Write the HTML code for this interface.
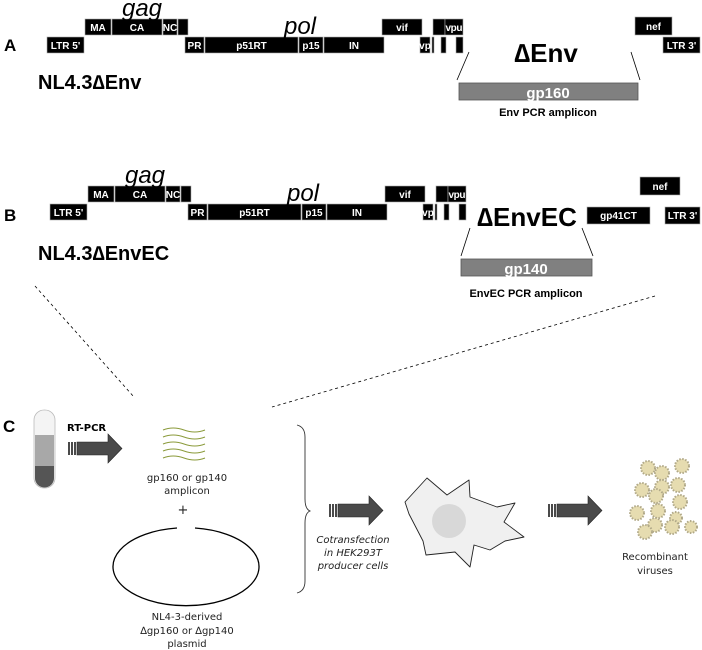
<!DOCTYPE html>
<html><head><meta charset="utf-8"><style>
html,body{margin:0;padding:0;background:#fff;}
svg{display:block;font-family:"Liberation Sans",sans-serif;}
.b{fill:#000;stroke:#aaa;stroke-width:0.6}
.t{fill:#fff;font-weight:bold;font-size:10px;text-anchor:middle}
.c{font-family:"DejaVu Sans","Liberation Sans",sans-serif;}
</style></head><body>
<svg width="702" height="650" viewBox="0 0 702 650" xmlns="http://www.w3.org/2000/svg">
<defs>
<g id="row">
 <rect class="b" x="47" y="37" width="37" height="16"/><text class="t" x="65.5" y="49">LTR 5'</text>
 <rect class="b" x="85" y="19" width="26" height="16"/><text class="t" x="98" y="31">MA</text>
 <rect class="b" x="112" y="19" width="50" height="16"/><text class="t" x="137" y="31">CA</text>
 <rect class="b" x="163" y="19" width="14" height="16"/><text class="t" x="170" y="31">NC</text>
 <rect class="b" x="178" y="19" width="10" height="16"/>
 <rect class="b" x="185" y="37" width="19" height="16"/><text class="t" x="194.5" y="49">PR</text>
 <rect class="b" x="205" y="37" width="93" height="16"/><text class="t" x="251.5" y="49">p51RT</text>
 <rect class="b" x="299" y="37" width="24" height="16"/><text class="t" x="311" y="49">p15</text>
 <rect class="b" x="324" y="37" width="60" height="16"/><text class="t" x="354" y="49">IN</text>
 <rect class="b" x="382" y="19" width="40" height="16"/><text class="t" x="402" y="31">vif</text>
 <rect class="b" x="420" y="37" width="10" height="16"/><text class="t" x="425" y="49">vp</text>
 <rect class="b" x="432" y="37" width="2" height="16"/>
 <rect class="b" x="433" y="19" width="12" height="16"/>
 <rect class="b" x="445" y="19" width="18" height="16"/><text class="t" x="454" y="31" textLength="17">vpu</text>
 <rect class="b" x="441" y="37" width="5" height="16"/>
 <rect class="b" x="456" y="37" width="7" height="16"/>
 <text x="142" y="16" font-size="24" font-style="italic" text-anchor="middle">gag</text>
 <text x="300" y="34" font-size="24" font-style="italic" text-anchor="middle">pol</text>
</g>
</defs>
<!-- A -->
<text x="4" y="51" font-size="17" font-weight="bold">A</text>
<use href="#row"/>
<rect class="b" x="635" y="17" width="37" height="18"/><text class="t" x="653.5" y="30">nef</text>
<rect class="b" x="663" y="37" width="37" height="16"/><text class="t" x="681.5" y="49">LTR 3'</text>
<text x="38" y="89" font-size="20" font-weight="bold">NL4.3∆Env</text>
<text x="546" y="62" font-size="26" font-weight="bold" text-anchor="middle">∆Env</text>
<line x1="469" y1="52" x2="457" y2="80" stroke="#000" stroke-width="0.8"/>
<line x1="631" y1="52" x2="640" y2="80" stroke="#000" stroke-width="0.8"/>
<rect x="459" y="83" width="179" height="17" fill="#808080" stroke="#555" stroke-width="0.8"/>
<text x="548" y="98" font-size="15" font-weight="bold" fill="#fff" text-anchor="middle">gp160</text>
<text x="548" y="116" font-size="11" font-weight="bold" text-anchor="middle">Env PCR amplicon</text>
<!-- B -->
<text x="4" y="221" font-size="17" font-weight="bold">B</text>
<g transform="translate(3,167)"><use href="#row"/></g>
<rect class="b" x="640" y="177" width="40" height="18"/><text class="t" x="660" y="190">nef</text>
<rect class="b" x="587" y="207" width="63" height="17"/><text class="t" x="618.5" y="219">gp41CT</text>
<rect class="b" x="665" y="207" width="35" height="17"/><text class="t" x="682.5" y="219">LTR 3'</text>
<text x="38" y="260" font-size="20" font-weight="bold">NL4.3∆EnvEC</text>
<text x="527" y="226" font-size="26" font-weight="bold" text-anchor="middle">∆EnvEC</text>
<line x1="470" y1="228" x2="461" y2="256" stroke="#000" stroke-width="0.8"/>
<line x1="582" y1="228" x2="593" y2="256" stroke="#000" stroke-width="0.8"/>
<rect x="461" y="259" width="131" height="17" fill="#808080" stroke="#555" stroke-width="0.8"/>
<text x="526" y="274" font-size="15" font-weight="bold" fill="#fff" text-anchor="middle">gp140</text>
<text x="526" y="297" font-size="11" font-weight="bold" text-anchor="middle">EnvEC PCR amplicon</text>
<!-- dashed -->
<line x1="35" y1="286" x2="134" y2="397" stroke="#000" stroke-width="0.8" stroke-dasharray="3,3"/>
<line x1="655" y1="296" x2="272" y2="407" stroke="#000" stroke-width="0.8" stroke-dasharray="3,3"/>
<!-- C -->
<text x="3" y="432" font-size="17" font-weight="bold">C</text>
<rect x="34" y="410" width="21" height="78" rx="10" fill="#f4f4f4" stroke="#bbb" stroke-width="0.8"/>
<path d="M35 435 H54 V478 A9.5 9.5 0 0 1 35 478 Z" fill="#a8a8a8"/>
<path d="M35 466 H54 V478 A9.5 9.5 0 0 1 35 478 Z" fill="#555"/>
<text x="67" y="431" font-size="10" font-weight="bold" class="c">RT-PCR</text>
<g id="arr" fill="#4a4a4a">
<rect x="68" y="442" width="2" height="13"/><rect x="71" y="442" width="2" height="13"/><rect x="74" y="442" width="2" height="13"/>
<path d="M77 442 H108 V434 L122 448.5 L108 463 V455 H77 Z" stroke="#222" stroke-width="0.6"/>
</g>
<g fill="none" stroke="#8a9a3a" stroke-width="1">
<path d="M163 430 q10 -4 21 0 t21 0"/><path d="M163 437 q10 -4 21 0 t21 0"/><path d="M163 444 q10 -4 21 0 t21 0"/><path d="M163 451 q10 -4 21 0 t21 0"/><path d="M163 458 q10 -4 21 0 t21 0"/>
</g>
<g class="c" font-size="10" text-anchor="middle" fill="#222">
<text x="187" y="481">gp160 or gp140</text><text x="187" y="494">amplicon</text>
<text x="183" y="514" font-size="13">+</text>
<text x="187" y="620">NL4-3-derived</text><text x="187" y="634">∆gp160 or ∆gp140</text><text x="187" y="647">plasmid</text>
</g>
<path d="M195 528 A73 39 0 1 1 177 528" fill="none" stroke="#000" stroke-width="1.3"/>
<path d="M297 425 q8 2 8 12 v62 q0 10 5 12 q-5 2 -5 12 v58 q0 10 -8 12" fill="none" stroke="#333" stroke-width="0.9"/>
<g transform="translate(261,62)"><use href="#arr"/></g>
<g class="c" font-size="10" font-style="italic" text-anchor="middle" fill="#222">
<text x="353" y="543">Cotransfection</text><text x="353" y="556">in HEK293T</text><text x="353" y="569">producer cells</text>
</g>
<path d="M427 478 L447 495 L469 480 L470 497 L497 507 L515 503 L504 522 L524 537 L505 541 L490 550 L474 545 L470 567 L455 552 L426 555 L423 541 L409 514 L405 502 Z" fill="#f0f0f0" stroke="#222" stroke-width="0.9" stroke-linejoin="round"/>
<circle cx="449" cy="521" r="17" fill="#d8d8d8"/>
<g transform="translate(480,62)"><use href="#arr"/></g>
<g fill="#e6dcb0" stroke="#b0a888" stroke-width="2" stroke-dasharray="1.5,1.5">
<circle cx="648" cy="468" r="7"/><circle cx="662" cy="473" r="7"/><circle cx="682" cy="466" r="7"/>
<circle cx="642" cy="490" r="7"/><circle cx="662" cy="487" r="7"/><circle cx="678" cy="485" r="7"/>
<circle cx="656" cy="496" r="7"/><circle cx="680" cy="502" r="7"/><circle cx="637" cy="513" r="7"/>
<circle cx="658" cy="511" r="7"/><circle cx="676" cy="518" r="6"/><circle cx="655" cy="525" r="7"/>
<circle cx="672" cy="527" r="7"/><circle cx="691" cy="527" r="6"/><circle cx="645" cy="532" r="7"/>
</g>
<g class="c" font-size="10" text-anchor="middle" fill="#222">
<text x="655" y="560">Recombinant</text><text x="655" y="574">viruses</text>
</g>
</svg>
</body></html>
